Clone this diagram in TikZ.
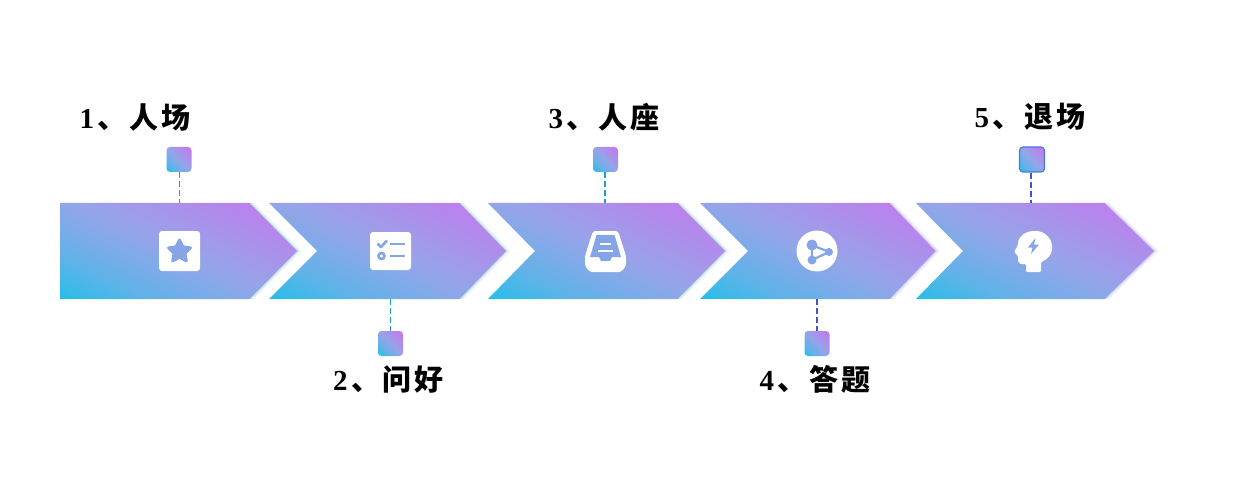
\documentclass[tikz,border=0pt]{standalone}
\usepackage{fontspec}
\setmainfont{Liberation Serif}
\newfontfamily\cjkb{Noto Sans CJK SC Bold}
\usetikzlibrary{shapes.geometric}
\definecolor{gc}{HTML}{27BEE8}
\definecolor{gd}{HTML}{62B2E8}
\definecolor{gm}{HTML}{96A4E8}
\definecolor{gp}{HTML}{C27AEE}
\definecolor{ic}{HTML}{86A5E6}
\definecolor{dashA}{HTML}{1E9CCC}
\definecolor{dashB}{HTML}{3F55C8}
\definecolor{sqedge}{HTML}{4A78E0}
\definecolor{haloT}{HTML}{7FC8BE}
\definecolor{haloV}{HTML}{A9A0EC}
\pgfdeclareverticalshading{chevgrad}{100bp}{color(0bp)=(gc); color(17bp)=(gc); color(31bp)=(gd); color(50bp)=(gm); color(80bp)=(gp); color(100bp)=(gp)}
\tikzset{
  x=1pt,y=-1pt,
  grad/.style={shading=chevgrad,shading angle=-25},
  sq/.style={draw=none,minimum size=25pt,inner sep=0pt,rounded corners=3.5pt,shading=chevgrad,shading angle=-45},
  dashline/.style={line width=1.1pt,dash pattern=on 6pt off 3pt},
  lbl/.style={inner sep=0pt,font=\fontsize{29}{31}\selectfont\bfseries,text=black},
  iconw/.style={fill=white,draw=none},
  iconc/.style={fill=ic,draw=none},
}
\newcommand{\lbltxt}[3]{#1\hspace{3.5pt}{\cjkb 、}\hspace{3pt}{\cjkb #2}\hspace{3pt}{\cjkb #3}}
% left, notch, top right, tip, halo colour
\newcommand{\chev}[5]{%
  \draw[#5!10,line width=7pt,line join=miter] (#3,203) -- (#4,251) -- (#3,299);
  \draw[#5!25,line width=4.5pt,line join=miter] (#3,203) -- (#4,251) -- (#3,299);
  \draw[#5!50,line width=2pt,line join=miter] (#3,203) -- (#4,251) -- (#3,299);
  \fill[white] (#1,197) rectangle ({#3+10},202.6);
  \fill[white] (#1,299.4) rectangle ({#3+10},305);
  \shade[grad] (#1,203) -- (#3,203) -- (#4,251) -- (#3,299) -- (#1,299) -- (#2,251) -- cycle;
}
\begin{document}
\begin{tikzpicture}
\useasboundingbox (0,0) rectangle (1236,481);
\fill[white] (0,0) rectangle (1236,481);

\chev{60}{60}{249.5}{297}{haloT}
\chev{269}{317}{459.5}{506}{haloT}
\chev{488}{535}{677.5}{725}{haloT}
\chev{700}{748}{889.5}{935.5}{haloV}
\chev{916}{963}{1104.5}{1154}{haloV}

% anchors on arrow edges
\coordinate (e1) at (179.5,203);
\coordinate (e2) at (390.5,299);
\coordinate (e3) at (605,203);
\coordinate (e4) at (817,299);
\coordinate (e5) at (1031,203);

% small squares
\node[sq] (s1) at (179,159.5) {};
\node[sq] (s2) at (390.5,343.5) {};
\node[sq] (s3) at (605.5,159.5) {};
\node[sq] (s4) at (817,343.5) {};
\node[sq,draw=sqedge,line width=1.2pt,minimum size=25pt] (s5) at (1032,159.5) {};

% connectors
\draw[dashline,dashA] (e1|-s1.south) -- (e1);
\draw[dashline,dashA] (e2) -- (e2|-s2.north);
\draw[dashline,dashA] (e3|-s3.south) -- (e3);
\draw[dashline,dashB] (e4) -- (e4|-s4.north);
\draw[dashline,dashB] (e5|-s5.south) -- (e5);

% labels
\node[lbl] (t1) at (135,117) {\lbltxt{1}{人}{场}};
\node[lbl] (t2) at (388.5,380) {\lbltxt{2}{问}{好}};
\node[lbl] (t3) at (604,117) {\lbltxt{3}{人}{座}};
\node[lbl] (t4) at (815,379) {\lbltxt{4}{答}{题}};
\node[lbl] (t5) at (1030,117) {\lbltxt{5}{退}{场}};

% icon 1: star card
\fill[iconw,rounded corners=3pt] (159,231) rectangle (200,271);
\node[star,star points=5,star point ratio=2.0,minimum size=23pt,inner sep=0pt,fill=ic,draw=ic,line width=3pt,line join=round] (st) at (179.5,251.5) {};

% icon 2: checklist card
\fill[iconw,rounded corners=3pt] (370,232) rectangle (411,270);
\draw[ic,line width=2.6pt,line join=round] (377.5,243.5) -- (381,247) -- (387,240.5);
\draw[ic,line width=2.6pt] (390,244) -- (405,244);
\draw[ic,line width=2.6pt] (381.5,256) circle (3pt);
\draw[ic,line width=2.6pt] (390,256) -- (405,256);

% icon 3: tray
\fill[iconw,rounded corners=2.5pt] (593,231) -- (618,231) -- (626,256) -- (626,266) -- (621,272) -- (590,272) -- (585,266) -- (585,256) -- cycle;
\fill[iconc] (596.5,235) -- (614.5,235) -- (621,257) -- (612,257) -- (610,261) -- (601,261) -- (599,257) -- (590,257) -- cycle;
\draw[white,line width=2.5pt] (600,244) -- (611,244);
\draw[white,line width=2.5pt] (598,251) -- (613,251);

% icon 4: share circle
\fill[iconw] (817,251) circle (20.5pt);
\draw[ic,line width=2.2pt,line join=round] (812,245) -- (829,252) -- (812,260) -- cycle;
\fill[iconc] (812,245) circle (5.5pt);
\fill[iconc] (829,252) circle (4pt);
\fill[iconc] (812,260) circle (4.5pt);

% icon 5: head with bolt
\fill[iconw,rounded corners=1.2pt] (1026,272) -- (1026,264) -- (1021,264) .. controls (1018,263) and (1018,260) .. (1018,256) -- (1014,252) .. controls (1016,248) and (1018,246) .. (1018,243) .. controls (1019,236) and (1026,231) .. (1035,231) .. controls (1044,231) and (1052,238) .. (1052,248) .. controls (1052,254) and (1047,260) .. (1041,262) -- (1041,272) -- cycle;
\fill[iconc] (1035.5,238) -- (1028,247.5) -- (1032.5,247.5) -- (1031,254) -- (1039,244.5) -- (1034,244.5) -- cycle;
\end{tikzpicture}
\end{document}
